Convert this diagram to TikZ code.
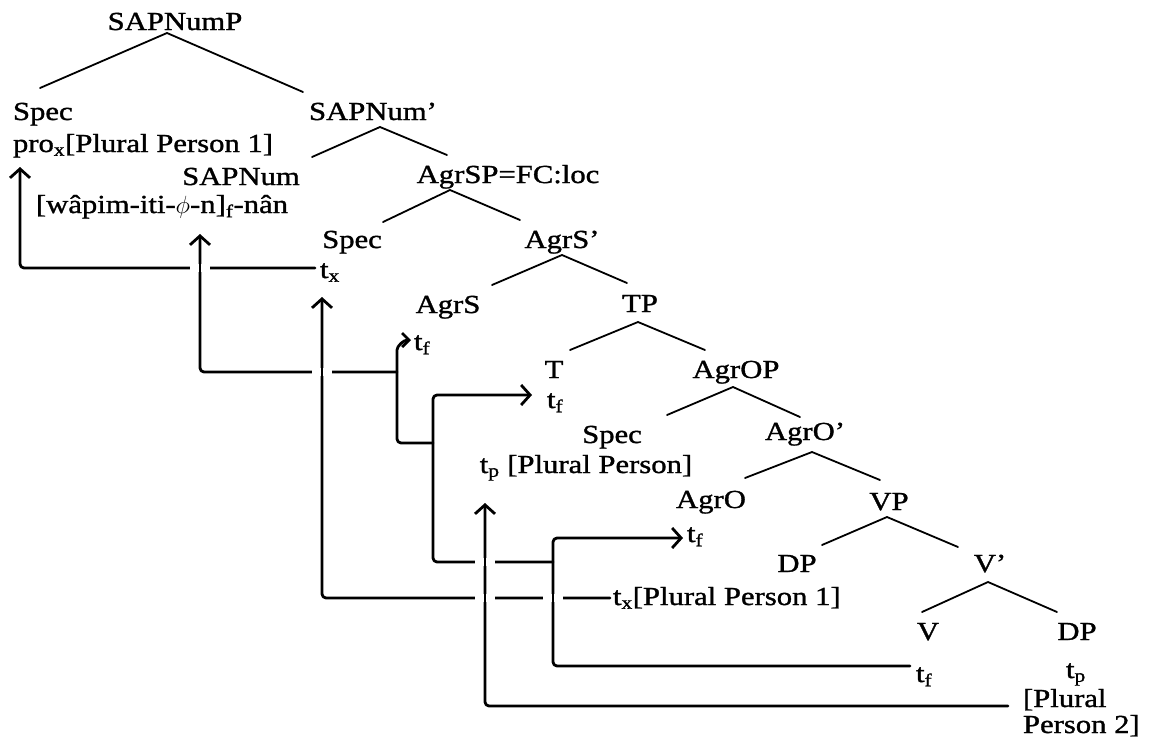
\documentclass[tikz,border=0pt]{standalone}
\usepackage{fontspec}
\setmainfont{Liberation Serif}[FakeStretch=1.18,FakeBold=1.2]
\usetikzlibrary{arrows.meta}
\newcommand{\sbs}[1]{\textsubscript{#1}}
\newcommand{\gapat}[2]{\fill[white] (#1-10,#2-4) rectangle (#1+10,#2+4); \draw[move] (#1,#2-7) -- (#1,#2+7);}
\tikzset{
  lbl/.style={inner sep=0pt, outer sep=0pt, font=\fontsize{26}{30}\selectfont},
  tree/.style={line width=1.8pt, line cap=round},
  move/.style={line width=2.8pt, line cap=round, line join=round, rounded corners=4pt},
  arr/.style={-{Straight Barb[length=9pt,width=20pt]}},
  arrs/.style={-{Straight Barb[length=7pt,width=14pt]}}
}
\begin{document}
\begin{tikzpicture}[x=1pt,y=-1pt]
\useasboundingbox (0,0) rectangle (1152,745);
% ---- labels
\node[lbl,anchor=base] (SAPNumP) at (175,30) {SAPNumP};
\node[lbl,anchor=base west] (Spec1) at (13,120) {Spec};
\node[lbl,anchor=base west] (pro) at (13,152) {pro\sbs{x}[Plural Person 1]};
\node[lbl,anchor=base] (SAPNumBar) at (373,120) {SAPNum’};
\node[lbl,anchor=base] (SAPNum) at (241,185) {SAPNum};
\node[lbl,anchor=base] (wapim) at (162,213) {[wâpim-iti-$\phi$-n]\sbs{f}-nân};
\node[lbl,anchor=base] (AgrSP) at (508,183) {AgrSP=FC:loc};
\node[lbl,anchor=base] (Spec2) at (352,248) {Spec};
\node[lbl,anchor=base west] (tx1) at (320,278) {t\sbs{x}};
\node[lbl,anchor=base] (AgrSBar) at (562,248) {AgrS’};
\node[lbl,anchor=base] (AgrS) at (448,313) {AgrS};
\node[lbl,anchor=base west] (tf1) at (414,350) {t\sbs{f}};
\node[lbl,anchor=base] (TP) at (640,312) {TP};
\node[lbl,anchor=base] (T) at (554,378) {T};
\node[lbl,anchor=base west] (tf2) at (547,408) {t\sbs{f}};
\node[lbl,anchor=base] (AgrOP) at (736,378) {AgrOP};
\node[lbl,anchor=base] (Spec3) at (612,443) {Spec};
\node[lbl,anchor=base] (tp1) at (586,473) {t\sbs{p} [Plural Person]};
\node[lbl,anchor=base] (AgrOBar) at (805,440) {AgrO’};
\node[lbl,anchor=base] (AgrO) at (711,508) {AgrO};
\node[lbl,anchor=base west] (tf3) at (687,542) {t\sbs{f}};
\node[lbl,anchor=base] (VP) at (889,510) {VP};
\node[lbl,anchor=base] (DP1) at (797,572) {DP};
\node[lbl,anchor=base west] (tx2) at (613,605) {t\sbs{x}[Plural Person 1]};
\node[lbl,anchor=base] (VBar) at (990,572) {V’};
\node[lbl,anchor=base] (V) at (928,640) {V};
\node[lbl,anchor=base] (DP2) at (1077,640) {DP};
\node[lbl,anchor=base west] (tf4) at (916,682) {t\sbs{f}};
\node[lbl,anchor=base west] (tp2) at (1066,678) {t\sbs{p}};
\node[lbl,anchor=base west] (plural) at (1023,707) {[Plural};
\node[lbl,anchor=base west] (person2) at (1023,733) {Person 2]};
% ---- tree edges
\coordinate (SAPNumP-b) at (167,33);  \coordinate (Spec1-t) at (40,88);    \coordinate (SAPNumBar-t) at (303,92);
\coordinate (SAPNumBar-b) at (380,127); \coordinate (SAPNum-t) at (312,157); \coordinate (AgrSP-t) at (447,155);
\coordinate (AgrSP-b) at (450,190);   \coordinate (Spec2-t) at (383,222);  \coordinate (AgrSBar-t) at (520,220);
\coordinate (AgrSBar-b) at (562,255); \coordinate (AgrS-t) at (492,285);   \coordinate (TP-t) at (627,283);
\coordinate (TP-b) at (638,322);      \coordinate (T-t) at (570,350);      \coordinate (AgrOP-t) at (705,350);
\coordinate (AgrOP-b) at (733,387);   \coordinate (Spec3-t) at (667,415);  \coordinate (AgrOBar-t) at (800,417);
\coordinate (AgrOBar-b) at (812,452); \coordinate (AgrO-t) at (745,478);   \coordinate (VP-t) at (880,480);
\coordinate (VP-b) at (887,517);      \coordinate (DP1-t) at (822,545);    \coordinate (VBar-t) at (958,547);
\coordinate (VBar-b) at (988,582);    \coordinate (V-t) at (922,612);      \coordinate (DP2-t) at (1057,612);
\draw[tree] (Spec1-t) -- (SAPNumP-b) -- (SAPNumBar-t);
\draw[tree] (SAPNum-t) -- (SAPNumBar-b) -- (AgrSP-t);
\draw[tree] (Spec2-t) -- (AgrSP-b) -- (AgrSBar-t);
\draw[tree] (AgrS-t) -- (AgrSBar-b) -- (TP-t);
\draw[tree] (T-t) -- (TP-b) -- (AgrOP-t);
\draw[tree] (Spec3-t) -- (AgrOP-b) -- (AgrOBar-t);
\draw[tree] (AgrO-t) -- (AgrOBar-b) -- (VP-t);
\draw[tree] (DP1-t) -- (VP-b) -- (VBar-t);
\draw[tree] (V-t) -- (VBar-b) -- (DP2-t);
% ---- movement lines
\coordinate (mA) at (315,268);   \coordinate (lA) at (20,167);
\coordinate (mC) at (610,598);   \coordinate (lC) at (322,297);
\coordinate (mD) at (1008,706);  \coordinate (lD) at (485,503);
\coordinate (mF) at (910,666);   \coordinate (lF1) at (683,538);
\coordinate (jF2) at (553,562);  \coordinate (lF2) at (532,395);
\coordinate (jF3) at (433,443);  \coordinate (lF3) at (411,340);
\coordinate (jF4) at (397,372);  \coordinate (lF4) at (200,234);
\draw[move,arr] (mA) -- (20,268) -- (lA);
\draw[move,arr] (jF4) -- (200,372) -- (lF4);
\draw[move,arr] (mC) -- (322,598) -- (lC);
\draw[move,arrs] (jF3) -- (397,443) -- (397,354) to[out=90,in=180] (lF3);
\draw[move,arr] (jF2) -- (433,562) -- (433,395) -- (lF2);
\draw[move,arr] (mF) -- (553,666) -- (553,538) -- (lF1);
\draw[move,arr] (mD) -- (485,706) -- (lD);
% ---- crossings
\gapat{200}{268}
\gapat{322}{372}
\gapat{485}{562}
\gapat{485}{598}
\gapat{553}{598}
\end{tikzpicture}
\end{document}
